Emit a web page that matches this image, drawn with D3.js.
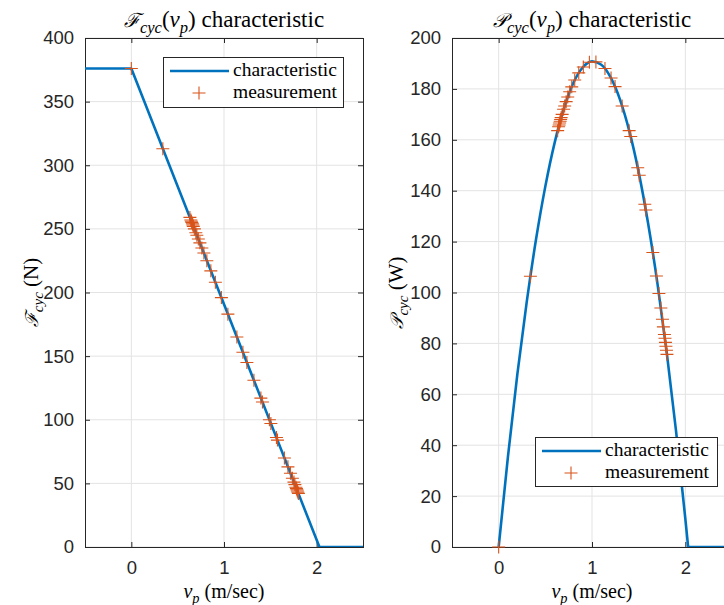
<!DOCTYPE html>
<html><head><meta charset="utf-8">
<script src="https://cdn.jsdelivr.net/npm/d3@7"></script>
<style>body{margin:0;background:#fff;overflow:hidden}</style></head>
<body><svg id="c" width="724" height="605"></svg>
<script>
// ---- data ----
const xTicks = [0, 1, 2];
const fTicks = [0, 50, 100, 150, 200, 250, 300, 350, 400];
const pTicks = [0, 20, 40, 60, 80, 100, 120, 140, 160, 180, 200];

// force characteristic (piecewise)
const charFv = [-0.5, 0, 2.03, 2.5];
const charF  = [376, 376, 0, 0];

// power characteristic
const charPv = [0, 0.1, 0.2, 0.3, 0.4, 0.5, 0.6, 0.7, 0.8, 0.9, 1.0, 1.1, 1.2, 1.3, 1.4, 1.5, 1.6, 1.7, 1.8, 1.9, 2.0, 2.03];
const charP  = [0, 35.7, 67.8, 96.1, 120.8, 141.7, 158.9, 172.4, 182.3, 188.4, 190.8, 189.5, 184.5, 175.8, 163.4, 147.3, 127.4, 103.9, 76.7, 45.7, 11.1, 0];
const tailPv = [2.03, 2.5];
const tailP  = [0, 0];

// measurements
const measV = [0.000, 0.340, 0.632, 0.642, 0.648, 0.653, 0.659, 0.664, 0.669, 0.680, 0.696, 0.707, 0.723, 0.740, 0.761, 0.783, 0.815, 0.858, 0.907, 0.972, 1.042, 1.139, 1.204, 1.247, 1.323, 1.398, 1.415, 1.490, 1.506, 1.566, 1.577, 1.652, 1.690, 1.717, 1.738, 1.755, 1.765, 1.776, 1.782, 1.787, 1.792, 1.798, 1.803];
const measF = [376, 313, 259, 257, 256, 255, 254, 253, 252, 250, 247, 245, 242, 239, 235, 231, 225, 217, 208, 196, 183, 165, 153, 145, 131, 117, 114, 100, 97, 86, 84, 70, 63, 58, 54, 51, 49, 47, 46, 45, 44, 43, 42];
const measP = [0, 106.4, 163.6, 165.1, 165.8, 166.6, 167.3, 168.0, 168.7, 170.0, 172.0, 173.3, 175.0, 176.8, 178.9, 180.8, 183.5, 186.3, 188.6, 190.5, 190.6, 188.0, 184.3, 180.9, 173.3, 163.6, 161.3, 149.0, 146.1, 134.7, 132.4, 115.7, 106.5, 99.6, 93.9, 89.5, 86.5, 83.5, 82.0, 80.4, 78.9, 77.3, 75.7];

// ---- drawing ----
const svg = d3.select('#c');
const BLUE = '#0072BD', ORANGE = '#D95319', AX = '#262626', GRID = '#e3e3e3';
const TOP = 38, BOT = 547;
const SERIF = "'Liberation Serif', 'Times New Roman', serif";
const SANS = "'Liberation Sans', Arial, sans-serif";
const MATH = "'DejaVu Serif', serif";

function mathText(sel, parts, size) {
  let shifted = false;
  parts.forEach(([s, k]) => {
    const ts = sel.append('tspan').text(s);
    if (k === 'sub') {
      ts.attr('dy', shifted ? 0 : size * 0.25).style('font-size', (size * 0.72) + 'px').style('font-style', 'italic');
      shifted = true;
    } else {
      if (shifted) { ts.attr('dy', -size * 0.25); shifted = false; }
      if (k === 'i') ts.style('font-style', 'italic');
      if (k === 'sym') ts.style('font-family', MATH).style('font-style', 'italic').style('font-size', (size * 0.85) + 'px');
    }
  });
}

function panel(opts) {
  const g = svg.append('g');
  const x = d3.scaleLinear().domain([-0.5, 2.5]).range([opts.left, opts.right]);
  const y = d3.scaleLinear().domain([0, opts.ymax]).range([BOT, TOP]);
  const clipId = 'clip' + opts.id;
  svg.append('clipPath').attr('id', clipId).append('rect')
    .attr('x', opts.left).attr('y', TOP).attr('width', opts.right - opts.left).attr('height', BOT - TOP);

  // grid
  g.selectAll('.gx').data(opts.xt).enter().append('line')
    .attr('x1', d => x(d)).attr('x2', d => x(d)).attr('y1', TOP).attr('y2', BOT)
    .attr('stroke', GRID).attr('stroke-width', 1);
  g.selectAll('.gy').data(opts.yt).enter().append('line')
    .attr('x1', opts.left).attr('x2', opts.right).attr('y1', d => y(d)).attr('y2', d => y(d))
    .attr('stroke', GRID).attr('stroke-width', 1);

  // axes
  const tl = 5;
  const fmt = d => String(d);
  const xb = d3.axisBottom(x).tickValues(opts.xt).tickFormat(fmt).tickSizeInner(-tl).tickSizeOuter(0).tickPadding(14);
  const xtp = d3.axisTop(x).tickValues(opts.xt).tickSizeInner(-tl).tickSizeOuter(0).tickFormat('');
  const yl = d3.axisLeft(y).tickValues(opts.yt).tickFormat(fmt).tickSizeInner(-tl).tickSizeOuter(0).tickPadding(11);
  const yr = d3.axisRight(y).tickValues(opts.yt).tickSizeInner(-tl).tickSizeOuter(0).tickFormat('');
  const axes = [
    g.append('g').attr('transform', `translate(0,${BOT})`).call(xb),
    g.append('g').attr('transform', `translate(0,${TOP})`).call(xtp),
    g.append('g').attr('transform', `translate(${opts.left},0)`).call(yl),
    g.append('g').attr('transform', `translate(${opts.right},0)`).call(yr)
  ];
  axes.forEach(a => {
    a.select('.domain').attr('stroke', AX).attr('stroke-width', 1);
    a.selectAll('.tick line').attr('stroke', AX);
    a.selectAll('.tick text').attr('fill', AX).style('font-family', SANS).style('font-size', '18.5px');
  });
  g.append('rect').attr('x', opts.left + 0.5).attr('y', TOP + 0.5).attr('width', opts.right - opts.left).attr('height', BOT - TOP)
    .attr('fill', 'none').attr('stroke', AX).attr('stroke-width', 1);

  // lines
  const line = d3.line().x(d => x(d[0])).y(d => y(d[1]));
  opts.lines.forEach(L => {
    g.append('path').datum(d3.zip(L.v, L.y))
      .attr('clip-path', `url(#${clipId})`)
      .attr('d', line.curve(L.curve || d3.curveLinear))
      .attr('fill', 'none').attr('stroke', BLUE).attr('stroke-width', 2.6).attr('stroke-linejoin', 'round');
  });

  // markers
  const ms = 6.5;
  g.selectAll('.mk').data(d3.zip(measV, opts.meas)).enter().append('path')
    .attr('d', d => `M${x(d[0]) - ms},${y(d[1])}H${x(d[0]) + ms}M${x(d[0])},${y(d[1]) - ms}V${y(d[1]) + ms}`)
    .attr('stroke', ORANGE).attr('stroke-width', 1.1).attr('fill', 'none');

  const cx = (opts.left + opts.right) / 2;
  // title
  const t = svg.append('text').attr('x', cx).attr('y', 27).attr('text-anchor', 'middle')
    .attr('fill', '#000').style('font-family', SERIF).style('font-size', '23px');
  mathText(t, [[opts.sym, 'sym'], ['cyc', 'sub'], ['(', 'r'], ['v', 'i'], ['p', 'sub'], [') characteristic', 'r']], 23);

  // x label
  const xlab = svg.append('text').attr('x', cx).attr('y', 598).attr('text-anchor', 'middle')
    .attr('fill', '#000').style('font-family', SERIF).style('font-size', '20px');
  mathText(xlab, [['v', 'i'], ['p', 'sub'], [' (m/sec)', 'r']], 20);

  // y label
  const ylab = svg.append('text').attr('transform', `translate(${opts.ylabX},${(TOP + BOT) / 2}) rotate(-90)`)
    .attr('text-anchor', 'middle').attr('fill', '#000')
    .style('font-family', SERIF).style('font-size', '21px');
  mathText(ylab, [[opts.sym, 'sym'], ['cyc', 'sub'], [' (' + opts.unit + ')', 'r']], 21);

  // legend
  const L = opts.leg;
  const lg = svg.append('g');
  lg.append('rect').attr('x', L.x + 0.5).attr('y', L.y + 0.5).attr('width', L.w).attr('height', L.h)
    .attr('fill', '#fff').attr('stroke', AX).attr('stroke-width', 1);
  lg.append('line').attr('x1', L.x + 7).attr('x2', L.x + 66).attr('y1', L.y + 14).attr('y2', L.y + 14)
    .attr('stroke', BLUE).attr('stroke-width', 2.6);
  const mx = L.x + 36, my = L.y + 36;
  lg.append('path').attr('d', `M${mx - ms},${my}H${mx + ms}M${mx},${my - ms}V${my + ms}`)
    .attr('stroke', ORANGE).attr('stroke-width', 1.1);
  ['characteristic', 'measurement'].forEach((s, i) => {
    lg.append('text').attr('x', L.x + 70).attr('y', L.y + 19 + i * 22).text(s)
      .attr('fill', '#000').style('font-family', SERIF).style('font-size', '19.5px');
  });
}

panel({
  id: 'F', left: 85, right: 363, ymax: 400, xt: xTicks, yt: fTicks, sym: 'ℱ', unit: 'N', ylabX: 38,
  lines: [{ v: charFv, y: charF }], meas: measF,
  leg: { x: 163, y: 57, w: 180, h: 50 }
});
panel({
  id: 'P', left: 452, right: 732, ymax: 200, xt: xTicks, yt: pTicks, sym: '𝒫', unit: 'W', ylabX: 403,
  lines: [{ v: charPv, y: charP, curve: d3.curveMonotoneX }, { v: tailPv, y: tailP }], meas: measP,
  leg: { x: 535, y: 437, w: 182, h: 49 }
});
</script>
</body></html>
